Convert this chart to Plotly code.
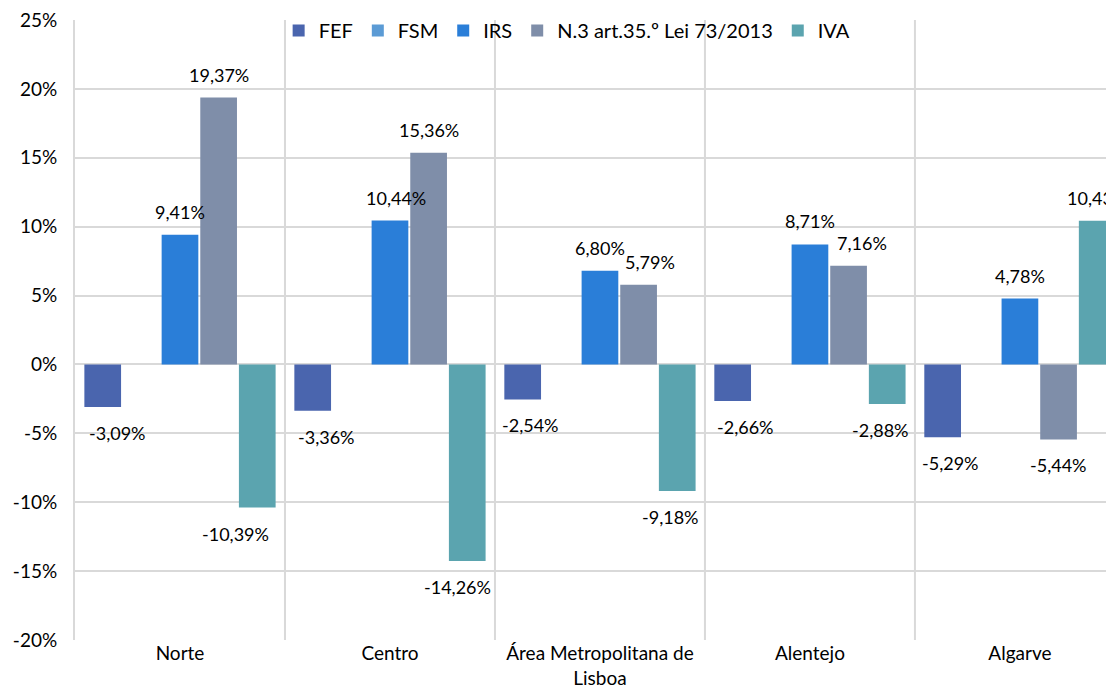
import plotly.graph_objects as go

# regions (categories) and series values, in %
regions = ['Norte', 'Centro', 'Área Metropolitana de<br>Lisboa', 'Alentejo', 'Algarve']
fef = [-3.09, -3.36, -2.54, -2.66, -5.29]
fsm = [0, 0, 0, 0, 0]
irs = [9.41, 10.44, 6.80, 8.71, 4.78]
n3 = [19.37, 15.36, 5.79, 7.16, -5.44]
iva = [-10.39, -14.26, -9.18, -2.88, 10.43]

y_ticks = [-20, -15, -10, -5, 0, 5, 10, 15, 20, 25]
y_tick_labels = ['-20%', '-15%', '-10%', '-5%', '0%', '5%', '10%', '15%', '20%', '25%']

series = [
    ('FEF', fef, '#4A65AE'),
    ('FSM', fsm, '#5B9BD5'),
    ('IRS', irs, '#2A7ED8'),
    ('N.3 art.35.º Lei 73/2013', n3, '#7F8EA9'),
    ('IVA', iva, '#5BA4AF'),
]

FONT = 'Lato, "Open Sans", sans-serif'
GRID = '#D9D9D9'
BARGAP = 0.08

# horizontal nudges (px) of some data labels, like Excel's overlap avoidance
nudge = {
    ('FEF', 0): 15, ('FEF', 1): 14, ('FEF', 2): 8, ('FEF', 3): 13, ('FEF', 4): 8,
    ('IVA', 0): -22, ('IVA', 1): -10, ('IVA', 2): -7, ('IVA', 3): -7,
    ('IRS', 1): 6,
    ('N.3 art.35.º Lei 73/2013', 2): 11, ('N.3 art.35.º Lei 73/2013', 3): 13,
}

def fmt(v):
    # Portuguese formatting
    return ('%.2f%%' % v).replace('.', ',')

xs = list(range(len(regions)))
n = len(series)
slot = (1 - BARGAP) / n

fig = go.Figure()
for j, (name, vals, color) in enumerate(series):
    fig.add_trace(go.Bar(
        x=xs, y=vals, name=name,
        marker=dict(color=color, line=dict(width=0)),
    ))
    # data labels ("outside end"), zero bars get no label
    off = -0.5 * (1 - BARGAP) + (j + 0.5) * slot
    for i, v in zip(xs, vals):
        if v == 0:
            continue
        fig.add_annotation(
            x=i + off, y=v, xref='x', yref='y', text=fmt(v), showarrow=False,
            xshift=nudge.get((name, i), 0),
            yanchor='bottom' if v > 0 else 'top', yshift=10 if v > 0 else -13,
            font=dict(family=FONT, size=18, color='#000000'),
        )

# vertical separators between categories (Excel category gridlines)
for i in xs:
    fig.add_shape(type='line', xref='x', yref='paper', x0=i + 0.5, x1=i + 0.5,
                  y0=0, y1=1, line=dict(color=GRID, width=2), layer='below')

# the source chart is cropped on the right, so the page is too
fig.update_layout(
    width=1106, height=686,
    margin=dict(l=67, r=0, t=12, b=54),
    plot_bgcolor='white', paper_bgcolor='white',
    barmode='group', bargap=BARGAP, bargroupgap=0.05,
    font=dict(family=FONT, size=18, color='#000000'),
    showlegend=True,
    legend=dict(
        orientation='h', x=0.196, xanchor='left', y=0.983, yanchor='middle',
        bgcolor='rgba(0,0,0,0)', font=dict(family=FONT, size=20),
        itemwidth=30, tracegroupgap=0,
    ),
)

fig.update_xaxes(
    range=[-0.5, 4.448], tickvals=xs, ticktext=regions,
    showgrid=False, zeroline=False, showline=False, ticks='',
    tickfont=dict(family=FONT, size=19),
)
fig.update_yaxes(
    range=[-20, 25], tickvals=y_ticks, ticktext=y_tick_labels,
    showgrid=True, gridcolor=GRID, gridwidth=2,
    zeroline=True, zerolinecolor=GRID, zerolinewidth=2,
    showline=True, linecolor=GRID, linewidth=2,
    ticks='', ticklabelstandoff=12, ticklabeloverflow='allow',
    tickfont=dict(family=FONT, size=19),
)

fig.write_html('out.html')
